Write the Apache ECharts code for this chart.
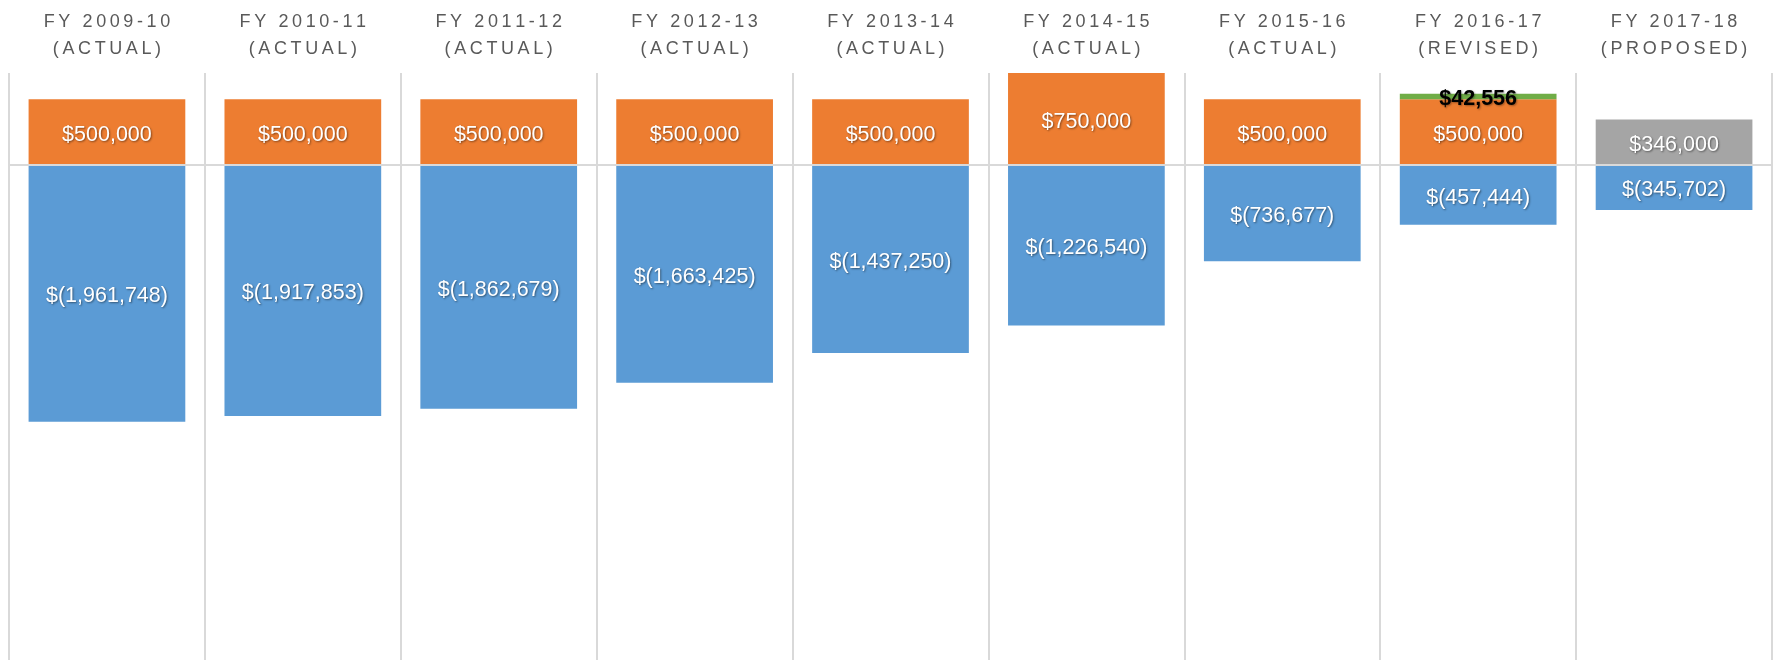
<!DOCTYPE html>
<html>
<head>
<meta charset="utf-8">
<title>Fiscal year results</title>
<script src="https://cdn.jsdelivr.net/npm/echarts@6/dist/echarts.min.js"></script>
<style>
  html, body { margin: 0; padding: 0; background: #fff; }
  #chart { width: 1775px; height: 660px; }
</style>
</head>
<body>
<div id="chart"></div>
<script>
// fiscal years shown across the top
const years = ['FY 2009-10', 'FY 2010-11', 'FY 2011-12', 'FY 2012-13', 'FY 2013-14',
  'FY 2014-15', 'FY 2015-16', 'FY 2016-17', 'FY 2017-18']
const status = ['(ACTUAL)', '(ACTUAL)', '(ACTUAL)', '(ACTUAL)', '(ACTUAL)',
  '(ACTUAL)', '(ACTUAL)', '(REVISED)', '(PROPOSED)']

// positive pieces (stacked above zero)
const transferIn = [500000, 500000, 500000, 500000, 500000, 750000, 500000, 500000, null]
const extraIn = [null, null, null, null, null, null, null, 42556, null]
const proposedIn = [null, null, null, null, null, null, null, null, 346000]
// negative piece (below zero)
const netResult = [-1961748, -1917853, -1862679, -1663425, -1437250, -1226540, -736677, -457444, -345702]

const categories = years.map((y, i) => y + '\n' + status[i])

const fmtMoney = v => {
  const s = Math.abs(v).toLocaleString('en-US')
  return v < 0 ? '$(' + s + ')' : '$' + s
}
// wide tracking of the header text
const spaced = s => s.split('').join('\u2009')

const labelFont = '"Liberation Sans", Arial, sans-serif'
const whiteLabel = {
  show: true,
  position: 'inside',
  offset: [0, 3],
  color: '#fff',
  fontSize: 21.5,
  fontFamily: labelFont,
  textShadowColor: 'rgba(0,0,0,0.45)',
  textShadowBlur: 2,
  textShadowOffsetX: 1,
  textShadowOffsetY: 1,
  formatter: p => fmtMoney(p.value)
}

const chart = echarts.init(document.getElementById('chart'))
chart.setOption({
  animation: false,
  grid: {
    left: 9,
    right: 3,
    top: 73,
    bottom: 0
  },
  xAxis: {
    type: 'category',
    position: 'top',
    data: categories,
    axisLine: { show: false },
    axisTick: { show: false },
    splitLine: {
      show: true,
      lineStyle: { color: '#d9d9d9', width: 2 }
    },
    axisLabel: {
      interval: 0,
      margin: 10,
      color: '#595959',
      fontSize: 18,
      lineHeight: 27,
      fontFamily: labelFont,
      formatter: v => v.split('\n').map(spaced).join('\n')
    }
  },
  yAxis: {
    type: 'value',
    show: false,
    min: -3780000,
    max: 700000,
    splitLine: { show: false }
  },
  series: [
    {
      name: 'Net result',
      type: 'bar',
      stack: 'total',
      barCategoryGap: '20%',
      data: netResult,
      itemStyle: { color: '#5b9bd5' },
      label: whiteLabel,
      markLine: {
        silent: true,
        symbol: 'none',
        label: { show: false },
        lineStyle: { color: '#d9d9d9', width: 2, type: 'solid' },
        data: [{ yAxis: 0 }]
      }
    },
    {
      name: 'Transfer in',
      type: 'bar',
      stack: 'total',
      data: transferIn,
      itemStyle: { color: '#ed7d31' },
      label: whiteLabel
    },
    {
      name: 'Additional',
      type: 'bar',
      stack: 'total',
      data: extraIn,
      itemStyle: { color: '#70ad47' },
      label: {
        show: true,
        position: 'inside',
        offset: [0, 3],
        color: '#000',
        fontWeight: 'bold',
        fontSize: 21.5,
        fontFamily: labelFont,
        textShadowColor: 'rgba(0,0,0,0.35)',
        textShadowBlur: 2,
        textShadowOffsetX: 1,
        textShadowOffsetY: 1,
        formatter: p => fmtMoney(p.value)
      }
    },
    {
      name: 'Proposed',
      type: 'bar',
      stack: 'total',
      data: proposedIn,
      itemStyle: { color: '#a5a5a5' },
      label: whiteLabel
    }
  ]
})
</script>
</body>
</html>
